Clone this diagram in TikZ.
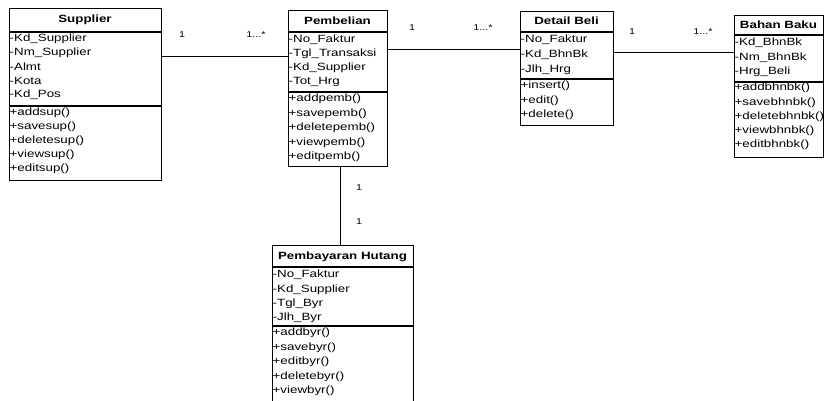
\documentclass[tikz,border=0pt]{standalone}
\usepackage{fontspec}
\setmainfont{Liberation Sans}
\newfontfamily\umlfont[FakeStretch=1.27]{Liberation Sans}
\begin{document}
\begin{tikzpicture}[x=1pt,y=-1pt,
  box/.style={draw, line width=1.1pt, inner sep=0, anchor=north west},
  sep/.style={line width=1.1pt},
  attr/.style={anchor=west, inner sep=0, font=\umlfont\fontsize{10.5}{12}\selectfont},
  ttl/.style={inner sep=0, font=\umlfont\bfseries\fontsize{10.5}{12}\selectfont},
  lab/.style={inner sep=0, font=\umlfont\fontsize{8.5}{10}\selectfont},
  conn/.style={line width=0.9pt}]
\useasboundingbox (0,0) rectangle (824,401);

% Supplier
\node[box, minimum width=152pt, minimum height=172pt] (sup) at (9,8) {};
\draw[sep] (9,32) -- (161,32);
\draw[sep] (9,106) -- (161,106);
\node[ttl] (supT) at (85,20) {Supplier};
\foreach \t [count=\i from 0] in {-Kd\_Supplier,-Nm\_Supplier,-Almt,-Kota,-Kd\_Pos}
  \node[attr] (supA\i) at (9.5,39+14*\i) {\t};
\foreach \t [count=\i from 0] in {+addsup(),+savesup(),+deletesup(),+viewsup(),+editsup()}
  \node[attr] (supM\i) at (9.5,113+14*\i) {\t};

% Pembelian
\node[box, minimum width=99pt, minimum height=156pt] (pem) at (288,10) {};
\draw[sep] (288,32) -- (387,32);
\draw[sep] (288,92) -- (387,92);
\node[ttl] (pemT) at (337.5,21) {Pembelian};
\foreach \t [count=\i from 0] in {-No\_Faktur,-Tgl\_Transaksi,-Kd\_Supplier,-Tot\_Hrg}
  \node[attr] (pemA\i) at (288.5,40+14*\i) {\t};
\foreach \t [count=\i from 0] in {+addpemb(),+savepemb(),+deletepemb(),+viewpemb(),+editpemb()}
  \node[attr] (pemM\i) at (288.5,99+14.5*\i) {\t};

% Detail Beli
\node[box, minimum width=93pt, minimum height=114pt] (det) at (520,11) {};
\draw[sep] (520,32) -- (613,32);
\draw[sep] (520,79) -- (613,79);
\node[ttl] (detT) at (566.5,21) {Detail Beli};
\foreach \t [count=\i from 0] in {-No\_Faktur,-Kd\_BhnBk,-Jlh\_Hrg}
  \node[attr] (detA\i) at (520.5,40+15*\i) {\t};
\foreach \t [count=\i from 0] in {+insert(),+edit(),+delete()}
  \node[attr] (detM\i) at (520.5,86+14.5*\i) {\t};

% Bahan Baku
\node[box, minimum width=89pt, minimum height=142pt] (bhn) at (734,15) {};
\draw[sep] (734,35) -- (823,35);
\draw[sep] (734,82) -- (823,82);
\node[ttl] (bhnT) at (778.5,25) {Bahan Baku};
\foreach \t [count=\i from 0] in {-Kd\_BhnBk,-Nm\_BhnBk,-Hrg\_Beli}
  \node[attr] (bhnA\i) at (734.5,43+14.5*\i) {\t};
\foreach \t [count=\i from 0] in {+addbhnbk(),+savebhnbk(),+deletebhnbk(),+viewbhnbk(),+editbhnbk()}
  \node[attr] (bhnM\i) at (734.5,88+14.3*\i) {\t};

% Pembayaran Hutang
\node[box, minimum width=141pt, minimum height=160pt] (pby) at (272,245) {};
\draw[sep] (272,267) -- (413,267);
\draw[sep] (272,326) -- (413,326);
\node[ttl] (pbyT) at (342.5,257) {Pembayaran Hutang};
\foreach \t [count=\i from 0] in {-No\_Faktur,-Kd\_Supplier,-Tgl\_Byr,-Jlh\_Byr}
  \node[attr] (pbyA\i) at (272.5,275+14.3*\i) {\t};
\foreach \t [count=\i from 0] in {+addbyr(),+savebyr(),+editbyr(),+deletebyr(),+viewbyr()}
  \node[attr] (pbyM\i) at (272.5,333+14.5*\i) {\t};

% connectors
\draw[conn] (sup.east |- 0,56) -- (pem.west |- 0,56);
\draw[conn] (pem.east |- 0,49) -- (det.west |- 0,49);
\draw[conn] (det.east |- 0,52) -- (bhn.west |- 0,52);
\draw[conn] (pem.south -| 340,0) -- (pby.north -| 340,0);

% multiplicities
\node[lab] (m1) at (182,35) {1};
\node[lab] (m2) at (256,35) {1...*};
\node[lab] (m3) at (412,28) {1};
\node[lab] (m4) at (483,28) {1...*};
\node[lab] (m5) at (632,32) {1};
\node[lab] (m6) at (703,32) {1...*};
\node[lab] (m7) at (359,188) {1};
\node[lab] (m8) at (359,222) {1};
\end{tikzpicture}
\end{document}
